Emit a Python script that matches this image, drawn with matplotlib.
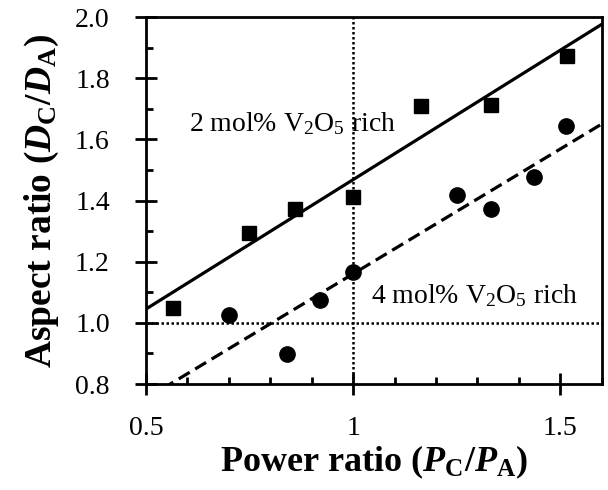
import matplotlib
matplotlib.use("Agg")
import matplotlib.pyplot as plt
from matplotlib.ticker import MultipleLocator, FixedLocator, FixedFormatter

plt.rcParams['font.family'] = ['Liberation Serif', 'DejaVu Serif']
plt.rcParams['mathtext.fontset'] = 'custom'
plt.rcParams['mathtext.rm'] = 'Liberation Serif'
plt.rcParams['mathtext.it'] = 'Liberation Serif:italic'
plt.rcParams['mathtext.bf'] = 'Liberation Serif:bold'
plt.rcParams['mathtext.bfit'] = 'Liberation Serif:bold:italic'

# data
sq_x = [0.566, 0.749, 0.860, 1.000, 1.163, 1.332, 1.516]
sq_y = [1.047, 1.295, 1.372, 1.411, 1.710, 1.712, 1.873]
ci_x = [0.701, 0.840, 0.920, 1.000, 1.250, 1.334, 1.436, 1.513]
ci_y = [1.027, 0.897, 1.076, 1.166, 1.418, 1.373, 1.478, 1.642]

# trend lines (end points at x = 0.5 and 1.6)
trend_x = [0.5, 1.6]
trend_sq = [1.045, 1.976]
trend_ci = [0.752, 1.650]

x_ticks = [0.5, 1.0, 1.5]
x_labels = ['0.5', '1', '1.5']

fig = plt.figure(figsize=(6.08, 4.9), dpi=100)
ax = fig.add_axes([0.240, 0.2163, 0.7496, 0.749])

ax.axvline(1.0, color='black', lw=1.8, ls=(0, (1, 1)), zorder=1)
ax.axhline(1.0, color='black', lw=1.8, ls=(0, (1, 1)), zorder=1)

ax.plot(trend_x, trend_sq, color='black', lw=2.3, zorder=2)
ax.plot(trend_x, trend_ci, color='black', lw=2.3, ls=(0, (4, 2)), zorder=2)

ax.plot(sq_x, sq_y, 's', color='black', ms=10.5, zorder=3)
ax.plot(ci_x, ci_y, 'o', color='black', ms=11, zorder=3)

ax.text(0.605, 1.651, r'2 mol% V$_2$O$_5$ rich', fontsize=20, va='center', ha='left')
ax.text(1.043, 1.09, r'4 mol% V$_2$O$_5$ rich', fontsize=20, va='center', ha='left')

ax.set_xlim(0.5, 1.6)
ax.set_ylim(0.8, 2.0)

ax.xaxis.set_major_locator(FixedLocator(x_ticks))
ax.xaxis.set_major_formatter(FixedFormatter(x_labels))
ax.xaxis.set_minor_locator(MultipleLocator(0.1))
ax.yaxis.set_major_locator(MultipleLocator(0.2))
ax.yaxis.set_minor_locator(MultipleLocator(0.1))
ax.yaxis.set_major_formatter(plt.FormatStrFormatter('%.1f'))

ax.tick_params(which='major', direction='inout', length=16, width=2, labelsize=20)
ax.tick_params(which='minor', direction='in', length=5, width=2)
ax.tick_params(axis='x', which='major', pad=15)
ax.tick_params(axis='y', which='major', pad=18)
for s in ax.spines.values():
    s.set_linewidth(2)

ax.set_xlabel(r'Power ratio ($\mathbfit{P}_{\mathbf{C}}$/$\mathbfit{P}_{\mathbf{A}}$)',
              fontsize=26, fontweight='bold', labelpad=2)
ax.set_ylabel(r'Aspect ratio ($\mathbfit{D}_{\mathbf{C}}$/$\mathbfit{D}_{\mathbf{A}}$)',
              fontsize=27, fontweight='bold', labelpad=10)

fig.savefig('out.png', dpi=100)
